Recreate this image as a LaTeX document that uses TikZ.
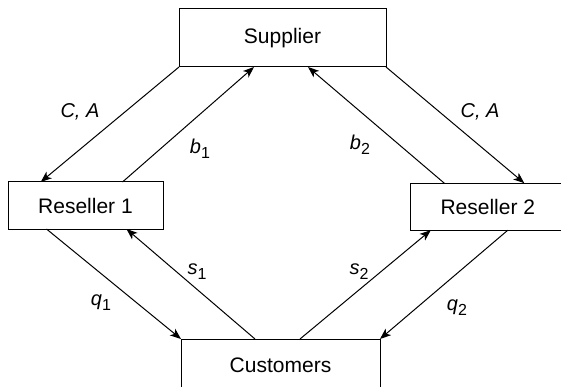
\documentclass[tikz,border=0pt]{standalone}
\usepackage{fontspec}
\setmainfont{Liberation Sans}
\usetikzlibrary{arrows.meta}
\newcommand{\lsub}[1]{\raisebox{-5pt}{\fontsize{16}{16}\selectfont\upshape #1}}
\begin{document}
\begin{tikzpicture}[x=1pt,y=-1pt,
  box/.style={draw, line width=1pt, rectangle, inner sep=0pt, outer sep=0pt,
    font=\fontsize{21}{25}\selectfont},
  conn/.style={line width=1pt, -{Stealth[length=11pt,width=8.5pt,inset=3pt]}},
  lbl/.style={font=\fontsize{20}{24}\selectfont\itshape, inner sep=0pt}]
\path[use as bounding box] (0,0) rectangle (561,387);
\clip (0,0) rectangle (561,387);
\node[box, minimum width=207pt, minimum height=58pt] (sup) at (282.5,38) {Supplier};
\node[box, minimum width=155pt, minimum height=47pt] (r1) at (85.5,205.5) {Reseller 1};
\node[box, minimum width=155pt, minimum height=47pt] (r2) at (487.8,206.7) {Reseller 2};
\node[box, minimum width=199pt, minimum height=52pt] (cus) at (280.5,365) {Customers};
\draw[conn] (sup.south west) -- ([xshift=32.7pt]r1.north west);
\draw[conn] ([xshift=37pt]r1.north) -- ([xshift=75pt]sup.south west);
\draw[conn] ([xshift=-43.5pt]r2.north) -- ([xshift=129pt]sup.south west);
\draw[conn] (sup.south east) -- ([xshift=36.5pt]r2.north);
\draw[conn] ([xshift=-39pt]r1.south) -- (cus.north west);
\draw[conn] ([xshift=-25.5pt]cus.north) -- ([xshift=41pt]r1.south);
\draw[conn] ([xshift=19.5pt]cus.north) -- ([xshift=-57pt]r2.south);
\draw[conn] ([xshift=20pt]r2.south) -- (cus.north east);
\node[lbl] (l1) at (80,112) {C, A};
\node[lbl] (l2) at (480,112) {C, A};
\node[lbl] (l3) at (200,149) {b\lsub{1}};
\node[lbl] (l4) at (360,145) {b\lsub{2}};
\node[lbl] (l5) at (197,272) {s\lsub{1}};
\node[lbl] (l6) at (359,272) {s\lsub{2}};
\node[lbl] (l7) at (101,303) {q\lsub{1}};
\node[lbl] (l8) at (457,308) {q\lsub{2}};
\end{tikzpicture}
\end{document}
